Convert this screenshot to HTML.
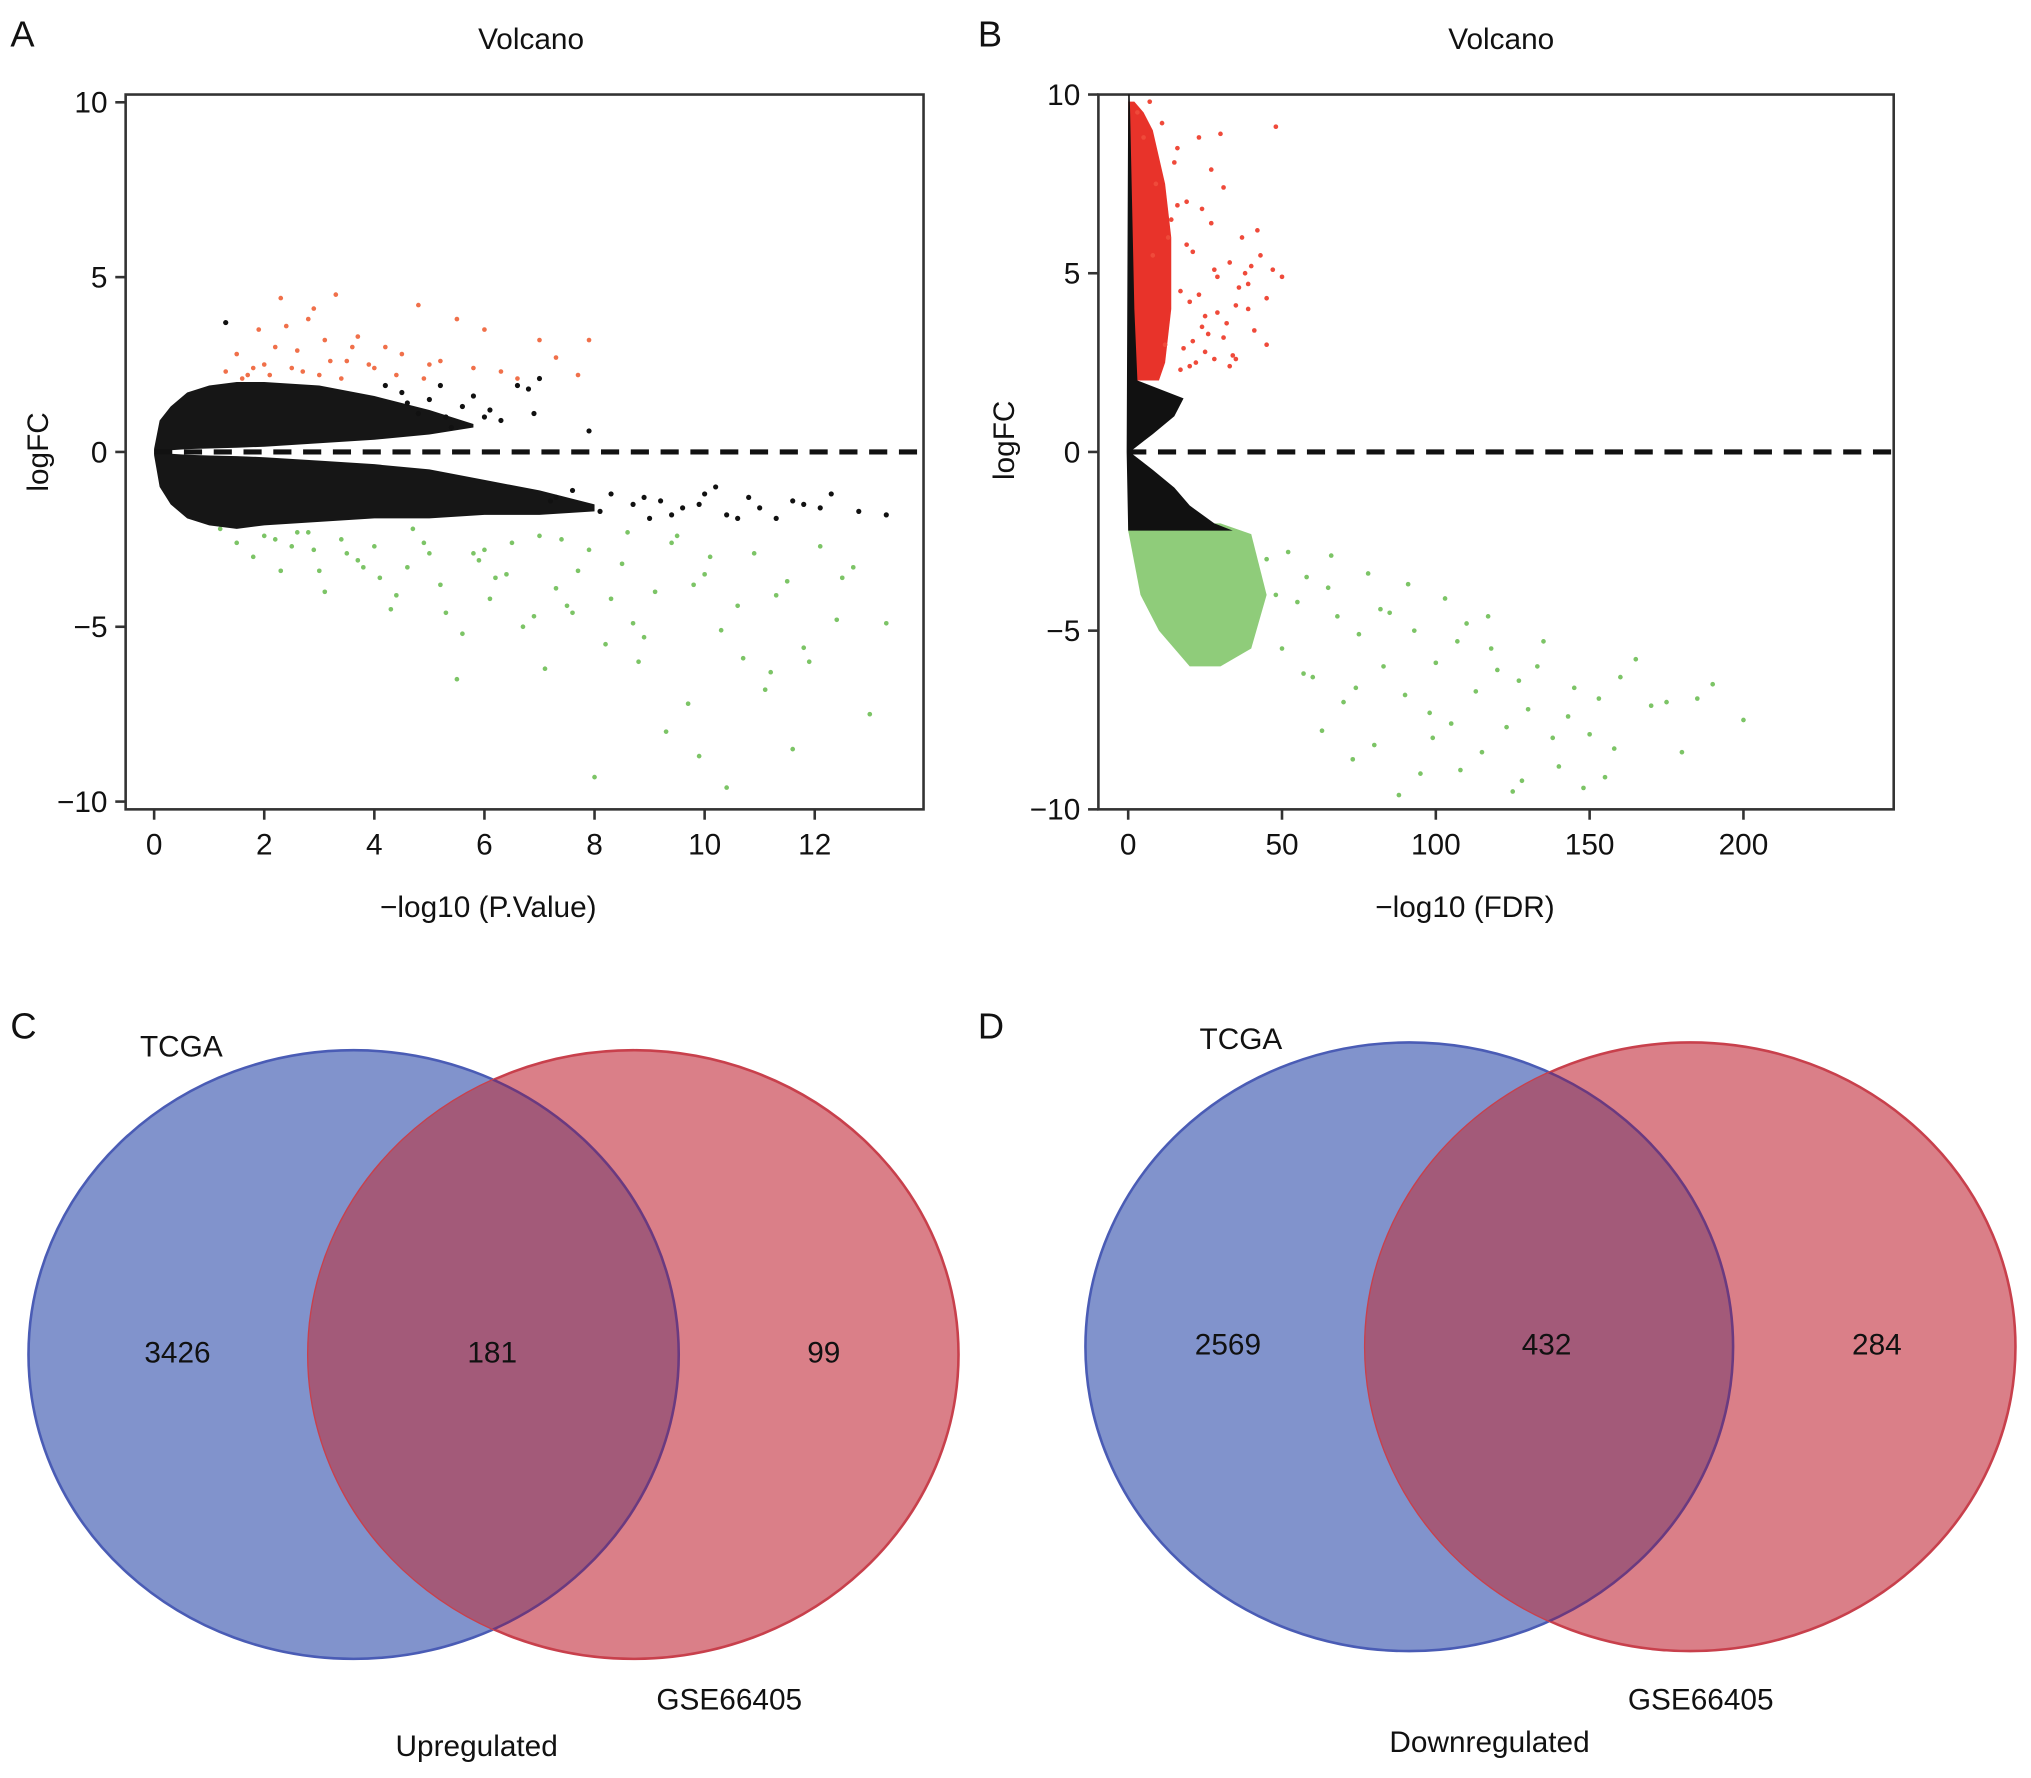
<!DOCTYPE html>
<html><head><meta charset="utf-8"><style>
html,body{margin:0;padding:0;background:#fff}
svg{display:block;font-family:"Liberation Sans",Arial,sans-serif}
</style></head><body>
<svg id="fig" width="2031" height="1778" viewBox="0 0 1568 1373" preserveAspectRatio="none">
<defs>
<clipPath id="clipC"><ellipse cx="489" cy="1046" rx="251" ry="235"/></clipPath>
<clipPath id="clipD"><ellipse cx="1305" cy="1040" rx="251" ry="235"/></clipPath>
</defs>
<g font-size="28" fill="#111">
<text x="8" y="36">A</text>
<text x="755" y="36">B</text>
<text x="8" y="802">C</text>
<text x="755" y="802">D</text>
</g>
<g font-size="23" fill="#111" text-anchor="middle">
<text x="410" y="38">Volcano</text>
<text x="1159" y="38">Volcano</text>
<text x="377" y="708">−log10 (P.Value)</text>
<text x="1131" y="708">−log10 (FDR)</text>
<text transform="translate(37,349) rotate(-90)">logFC</text>
<text transform="translate(783,340) rotate(-90)">logFC</text>
</g>
<g id="plotA"></g>
<g id="plotB"></g>

<g>
<ellipse cx="273" cy="1046" rx="251" ry="235" fill="#8193cc" stroke="#4a5cb5" stroke-width="2"/>
<ellipse cx="489" cy="1046" rx="251" ry="235" fill="#da7f88" stroke="#c8404c" stroke-width="2"/>
<ellipse cx="273" cy="1046" rx="251" ry="235" fill="#a35a79" stroke="#6a3a80" stroke-width="2" clip-path="url(#clipC)"/>
<g font-size="23" fill="#111" text-anchor="middle">
<text x="140" y="816">TCGA</text>
<text x="137" y="1052">3426</text>
<text x="380" y="1052">181</text>
<text x="636" y="1052">99</text>
<text x="563" y="1320">GSE66405</text>
<text x="368" y="1356">Upregulated</text>
</g></g>
<g>
<ellipse cx="1088" cy="1040" rx="250" ry="235" fill="#8193cc" stroke="#4a5cb5" stroke-width="2"/>
<ellipse cx="1305" cy="1040" rx="251" ry="235" fill="#da7f88" stroke="#c8404c" stroke-width="2"/>
<ellipse cx="1088" cy="1040" rx="250" ry="235" fill="#a35a79" stroke="#6a3a80" stroke-width="2" clip-path="url(#clipD)"/>
<g font-size="23" fill="#111" text-anchor="middle">
<text x="958" y="810">TCGA</text>
<text x="948" y="1046">2569</text>
<text x="1194" y="1046">432</text>
<text x="1449" y="1046">284</text>
<text x="1313" y="1320">GSE66405</text>
<text x="1150" y="1353">Downregulated</text>
</g></g>
</svg>
<script>
// ---- Panel A data ----
const aXTicks = [0,2,4,6,8,10,12];
const aYTicks = [-10,-5,0,5,10];
const aUpX = [0,0.1,0.3,0.6,1,1.5,2,3,4,5,5.8];
const aUpOuter = [0.1,0.9,1.3,1.7,1.9,2.0,2.0,1.9,1.6,1.2,0.8];
const aUpInner = [0.0,0.05,0.05,0.08,0.1,0.12,0.15,0.25,0.35,0.5,0.7];
const aLoX = [0,0.1,0.3,0.6,1,1.5,2,3,4,5,6,7,8];
const aLoOuter = [-0.1,-1.0,-1.5,-1.9,-2.1,-2.2,-2.1,-2.0,-1.9,-1.9,-1.8,-1.8,-1.7];
const aLoInner = [0.0,-0.05,-0.05,-0.08,-0.1,-0.12,-0.15,-0.25,-0.35,-0.5,-0.8,-1.1,-1.5];
const aBlackX = [1.3,5.3,5.6,6.1,6.6,6.8,7.0,7.9,8.3,8.7,9.2,9.6,10.0,10.4,10.8,11.3,11.8,12.3,12.8,13.3,9.0,10.2,11.0,4.8,5.0,4.5,5.8,6.3,7.3,7.6,8.1,8.9,9.4,9.9,10.6,11.6,12.1,5.4,6.0,4.2,4.6,5.2,6.9,7.2];
const aBlackY = [3.7,1.0,1.3,1.2,1.9,1.8,2.1,0.6,-1.2,-1.5,-1.4,-1.6,-1.2,-1.8,-1.3,-1.9,-1.5,-1.2,-1.7,-1.8,-1.9,-1.0,-1.6,1.1,1.5,1.7,1.6,0.9,-1.3,-1.1,-1.7,-1.3,-1.8,-1.5,-1.9,-1.4,-1.6,0.7,1.0,1.9,1.4,1.9,1.1,-1.4];
const aRedX = [1.3,1.5,1.7,1.9,2.0,2.2,2.3,2.5,2.6,2.8,3.0,3.1,3.3,3.5,3.7,4.0,4.2,4.5,4.8,5.2,5.5,5.8,6.0,6.3,7.0,7.3,7.7,7.9,1.6,2.1,2.7,3.4,3.9,4.4,4.9,2.4,3.2,1.8,2.9,3.6,5.0,6.6];
const aRedY = [2.3,2.8,2.2,3.5,2.5,3.0,4.4,2.4,2.9,3.8,2.2,3.2,4.5,2.6,3.3,2.4,3.0,2.8,4.2,2.6,3.8,2.4,3.5,2.3,3.2,2.7,2.2,3.2,2.1,2.2,2.3,2.1,2.5,2.2,2.1,3.6,2.6,2.4,4.1,3.0,2.5,2.1];
const aGreenX = [1.2,1.5,1.8,2.0,2.3,2.6,2.9,3.1,3.4,3.7,4.0,4.3,4.6,4.9,5.2,5.5,5.8,6.1,6.4,6.7,7.0,7.3,7.6,7.9,8.2,8.5,8.8,9.1,9.4,9.7,10.0,10.3,10.6,10.9,11.2,11.5,11.8,12.1,12.4,12.7,13.0,13.3,2.2,2.8,3.5,4.1,4.7,5.3,5.9,6.5,7.1,7.7,8.3,8.9,9.5,10.1,10.7,11.3,11.9,12.5,3.0,4.4,5.6,6.9,8.0,9.3,10.4,11.6,6.0,7.4,8.6,9.8,2.5,3.8,5.0,6.2,7.5,8.7,9.9,11.1];
const aGreenY = [-2.2,-2.6,-3.0,-2.4,-3.4,-2.3,-2.8,-4.0,-2.5,-3.1,-2.7,-4.5,-3.3,-2.6,-3.8,-6.5,-2.9,-4.2,-3.5,-5.0,-2.4,-3.9,-4.6,-2.8,-5.5,-3.2,-6.0,-4.0,-2.6,-7.2,-3.5,-5.1,-4.4,-2.9,-6.3,-3.7,-5.6,-2.7,-4.8,-3.3,-7.5,-4.9,-2.5,-2.3,-2.9,-3.6,-2.2,-4.6,-3.1,-2.6,-6.2,-3.4,-4.2,-5.3,-2.4,-3.0,-5.9,-4.1,-6.0,-3.6,-3.4,-4.1,-5.2,-4.7,-9.3,-8.0,-9.6,-8.5,-2.8,-2.5,-2.3,-3.8,-2.7,-3.3,-2.9,-3.6,-4.4,-4.9,-8.7,-6.8];
// ---- Panel B data ----
const bXTicks = [0,50,100,150,200];
const bYTicks = [-10,-5,0,5,10];
const bSpikeY = [10,8,6,4,2,1.5,1,0.5,0,-0.5,-1,-1.5,-2,-2.2];
const bSpikeR = [0.5,1,1.5,2,3,18,15,8,0.5,8,15,20,28,34];
const bRedCoreX = [0,2,4,6,8,10,12,14,14,12,8,5,2,0];
const bRedCoreY = [2,2,2,2,2,2,2.5,4,6,7.5,9,9.5,9.8,9.8];
const bGreenCoreX = [0,10,20,30,40,45,40,30,20,10,4,0];
const bGreenCoreY = [-2,-2,-2,-2,-2.3,-4,-5.5,-6,-6,-5,-4,-2.2];
const bRedX = [3,5,7,9,11,13,15,17,19,21,23,25,27,29,31,33,35,37,39,41,43,45,47,50,8,12,16,20,24,28,32,36,40,18,26,34,42,38,48,14,22,30,45,39,17,21,25,29,33,19,23,27,31,35,16,20,24,28];
const bRedY = [9.5,8.8,9.8,7.5,9.2,6.0,8.1,4.5,7.0,5.6,8.8,3.8,6.4,4.9,7.4,5.3,4.1,6.0,4.7,3.4,5.5,4.3,5.1,4.9,5.5,3.0,8.5,4.2,6.8,2.6,3.6,4.6,5.2,2.9,3.3,2.7,6.2,5.0,9.1,6.5,2.5,8.9,3.0,4.0,2.3,3.1,2.8,3.9,2.4,5.8,4.4,7.9,3.2,2.6,6.9,2.4,3.5,5.1];
const bGreenX = [45,50,55,60,65,70,75,80,85,90,95,100,105,110,115,120,125,130,135,140,145,150,155,160,170,180,190,200,52,58,63,68,73,78,83,88,93,98,103,108,113,118,123,128,133,138,143,148,153,158,165,175,185,48,57,66,74,82,91,99,107,117,127];
const bGreenY = [-3.0,-5.5,-4.2,-6.3,-3.8,-7.0,-5.1,-8.2,-4.5,-6.8,-9.0,-5.9,-7.6,-4.8,-8.4,-6.1,-9.5,-7.2,-5.3,-8.8,-6.6,-7.9,-9.1,-6.3,-7.1,-8.4,-6.5,-7.5,-2.8,-3.5,-7.8,-4.6,-8.6,-3.4,-6.0,-9.6,-5.0,-7.3,-4.1,-8.9,-6.7,-5.5,-7.7,-9.2,-6.0,-8.0,-7.4,-9.4,-6.9,-8.3,-5.8,-7.0,-6.9,-4.0,-6.2,-2.9,-6.6,-4.4,-3.7,-8.0,-5.3,-4.6,-6.4];

const NS = "http://www.w3.org/2000/svg";
function mk(parent, tag, attrs){const e=document.createElementNS(NS,tag);for(const k in attrs)e.setAttribute(k,attrs[k]);parent.appendChild(e);return e;}

function buildAxes(g, box, sx, sy, xt, yt, prefix){
  const f=mk(g,'rect',{x:box.x0,y:box.y0,width:box.x1-box.x0,height:box.y1-box.y0,fill:'none',stroke:'#333','stroke-width':2});
  
  
  xt.forEach(v=>{
    mk(g,'line',{x1:sx(v),x2:sx(v),y1:box.y1,y2:box.y1+8,stroke:'#333','stroke-width':2});
    const t=mk(g,'text',{x:sx(v),y:box.y1+35,'font-size':23,'text-anchor':'middle',fill:'#111'});t.textContent=v;
    
    
  });
  yt.forEach(v=>{
    mk(g,'line',{x1:box.x0-8,x2:box.x0,y1:sy(v),y2:sy(v),stroke:'#333','stroke-width':2});
    const t=mk(g,'text',{x:box.x0-14,y:sy(v)+8,'font-size':23,'text-anchor':'end',fill:'#111'});t.textContent=(v<0?'−'+(-v):v);
    
    
  });
}
function pts(g,xs,ys,sx,sy,color,r,name){
  xs.forEach((x,i)=>{if(ys[i]===undefined)return;const c=mk(g,'circle',{cx:sx(x),cy:sy(ys[i]),r:r,fill:color});
    
    });
}
function band(g,xs,outer,inner,sx,sy,color,name){
  let d='M'+xs.map((x,i)=>sx(x)+','+sy(outer[i])).join(' L');
  d+=' L'+xs.slice().reverse().map((x,i)=>sx(x)+','+sy(inner[xs.length-1-i])).join(' L')+'Z';
  const p=mk(g,'path',{d:d,fill:color});
  
  
}
(function(){
  const g=document.getElementById('plotA');
  const box={x0:97,x1:713,y0:73,y1:625};
  const sx=v=>119+v*42.5, sy=v=>349-v*27;
  buildAxes(g,box,sx,sy,aXTicks,aYTicks,'a');
  pts(g,aGreenX,aGreenY,sx,sy,'#7cc466',1.8,'a-down-point');
  pts(g,aRedX,aRedY,sx,sy,'#f0704a',1.8,'a-up-point');
  band(g,aUpX,aUpOuter,aUpInner,sx,sy,'#161616','a-ns-cloud-up');
  band(g,aLoX,aLoOuter,aLoInner,sx,sy,'#161616','a-ns-cloud-down');
  pts(g,aBlackX,aBlackY,sx,sy,'#111',2,'a-ns-point');
  mk(g,'line',{x1:sx(0),x2:box.x1,y1:sy(0),y2:sy(0),stroke:'#111','stroke-width':4,'stroke-dasharray':'14,9'});
})();
(function(){
  const g=document.getElementById('plotB');
  const box={x0:848,x1:1462,y0:73,y1:625};
  const sx=v=>871+v*2.375, sy=v=>349-v*27.6;
  buildAxes(g,box,sx,sy,bXTicks,bYTicks,'b');
  let d='M'+bRedCoreX.map((x,i)=>sx(x)+','+sy(bRedCoreY[i])).join(' L')+'Z';
  let p=mk(g,'path',{d:d,fill:'#e8332a'});
  
  
  d='M'+bGreenCoreX.map((x,i)=>sx(x)+','+sy(bGreenCoreY[i])).join(' L')+'Z';
  p=mk(g,'path',{d:d,fill:'#8fcc7a'});
  
  
  pts(g,bRedX,bRedY,sx,sy,'#ef4a3a',1.8,'b-up-point');
  pts(g,bGreenX,bGreenY,sx,sy,'#7cc466',1.8,'b-down-point');
  d='M'+bSpikeY.map((y,i)=>sx(bSpikeR[i])+','+sy(y)).join(' L')+' L'+sx(0)+','+sy(-2.2)+' L'+sx(-0.5)+','+sy(0)+' L'+sx(0)+','+sy(10)+'Z';
  p=mk(g,'path',{d:d,fill:'#111'});
  
  
  mk(g,'line',{x1:sx(0),x2:box.x1,y1:sy(0),y2:sy(0),stroke:'#111','stroke-width':4,'stroke-dasharray':'14,9'});
})();
</script>
</body></html>
